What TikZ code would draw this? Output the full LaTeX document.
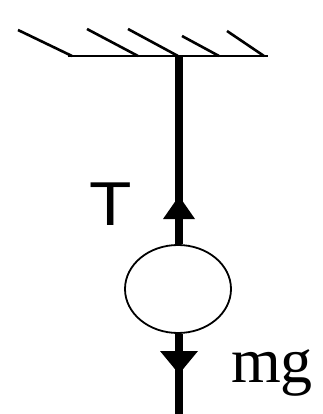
\documentclass[tikz,border=0pt]{standalone}
\usepackage{fontspec}
\setmainfont{Liberation Serif}
\newfontfamily\labsans{Liberation Sans}
\usetikzlibrary{shapes.geometric}
\begin{document}
\begin{tikzpicture}[x=1pt,y=-1pt,
  hatchline/.style={line width=2.6pt},
  ropeline/.style={line width=7.5pt},
  headfill/.style={fill=black},
  ballstyle/.style={draw, ellipse, line width=1.8pt, minimum width=106pt, minimum height=88pt, inner sep=0pt}]
\useasboundingbox (0,0) rectangle (323,414);
% ceiling
\coordinate (cl) at (68,56);
\coordinate (cr) at (268,56);
\coordinate (top) at (179,56);
\draw[hatchline] (cl) -- (cr);
\draw[hatchline] (18,30) -- (72,56);
\draw[hatchline] (87,29) -- (138,56);
\draw[hatchline] (128,29) -- (178,56);
\draw[hatchline] (182,36) -- (219,56);
\draw[hatchline] (227,31) -- (264,56);
% ball
\node[ballstyle] (ball) at (178,289) {};
\coordinate (bottom) at (179,414);
% rope
\draw[ropeline] (top) -- (ball.north -| top);
\draw[ropeline] (ball.south -| top) -- (bottom);
% arrow heads
\fill[headfill] (179,196) -- (195,219) -- (163,219) -- cycle;
\fill[headfill] (179,374) -- (198,351) -- (160,351) -- cycle;
% labels
\node[font=\labsans\fontsize{62}{62}\selectfont, inner sep=0pt, xscale=1.12] (T) at (111,204) {T};
\node[font=\fontsize{64}{64}\selectfont, inner sep=0pt, anchor=base west] (mg) at (231,382) {mg};
\end{tikzpicture}
\end{document}
